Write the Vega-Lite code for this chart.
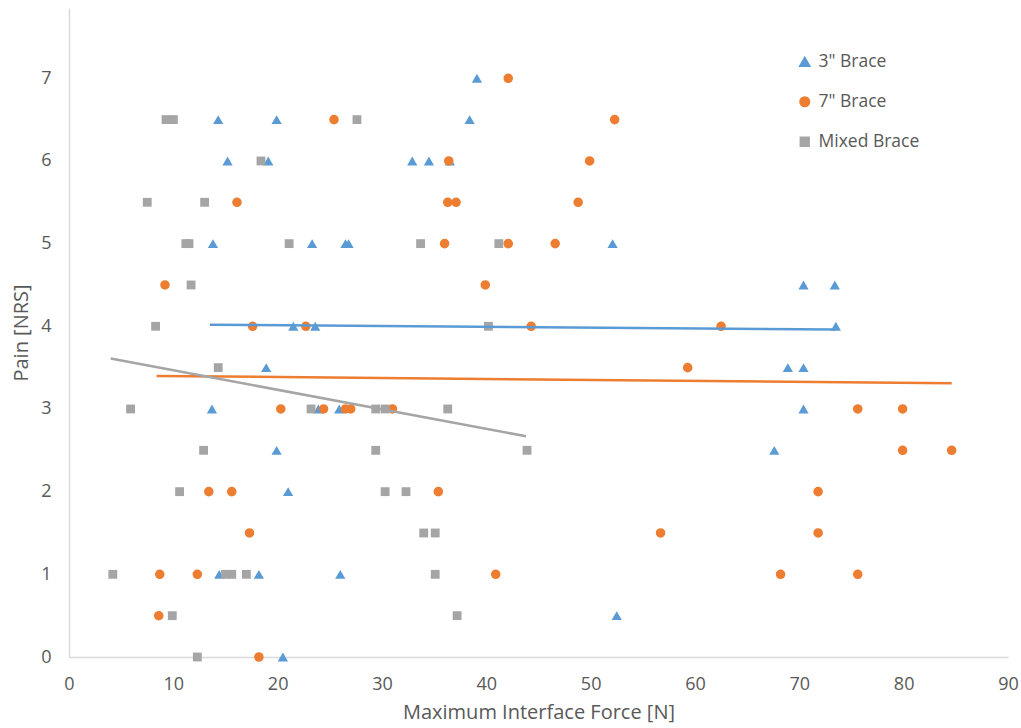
{
  "$schema": "https://vega.github.io/schema/vega-lite/v6.json",
  "width": 939,
  "height": 649,
  "autosize": {"type": "none"},
  "padding": {"left": 69, "top": 8, "right": 13, "bottom": 71},
  "background": "white",
  "config": {
    "view": {"stroke": null},
    "font": "Open Sans",
    "axis": {
      "grid": false,
      "ticks": false,
      "labelFlush": false,
      "domainColor": "#D9D9D9",
      "domainWidth": 1.5,
      "labelColor": "#595959",
      "labelFont": "Open Sans",
      "labelFontSize": 18,
      "labelPadding": 18,
      "titleColor": "#595959",
      "titleFont": "Open Sans",
      "titleFontSize": 20,
      "titleFontWeight": "normal"
    },
    "legend": {
      "labelColor": "#595959",
      "labelFont": "Open Sans",
      "labelFontSize": 17.5,
      "rowPadding": 21,
      "labelOffset": 5
    }
  },
  "datasets": {
    "points": [
      {"brace": "3\" Brace", "force": 14.3, "pain": 6.5},
      {"brace": "3\" Brace", "force": 19.9, "pain": 6.5},
      {"brace": "3\" Brace", "force": 38.4, "pain": 6.5},
      {"brace": "3\" Brace", "force": 39.1, "pain": 7},
      {"brace": "3\" Brace", "force": 15.2, "pain": 6},
      {"brace": "3\" Brace", "force": 19.1, "pain": 6},
      {"brace": "3\" Brace", "force": 32.9, "pain": 6},
      {"brace": "3\" Brace", "force": 34.5, "pain": 6},
      {"brace": "3\" Brace", "force": 36.5, "pain": 6},
      {"brace": "3\" Brace", "force": 13.8, "pain": 5},
      {"brace": "3\" Brace", "force": 23.3, "pain": 5},
      {"brace": "3\" Brace", "force": 26.5, "pain": 5},
      {"brace": "3\" Brace", "force": 26.8, "pain": 5},
      {"brace": "3\" Brace", "force": 52.1, "pain": 5},
      {"brace": "3\" Brace", "force": 70.4, "pain": 4.5},
      {"brace": "3\" Brace", "force": 73.4, "pain": 4.5},
      {"brace": "3\" Brace", "force": 21.5, "pain": 4},
      {"brace": "3\" Brace", "force": 23.6, "pain": 4},
      {"brace": "3\" Brace", "force": 73.5, "pain": 4},
      {"brace": "3\" Brace", "force": 18.9, "pain": 3.5},
      {"brace": "3\" Brace", "force": 68.9, "pain": 3.5},
      {"brace": "3\" Brace", "force": 70.4, "pain": 3.5},
      {"brace": "3\" Brace", "force": 13.7, "pain": 3},
      {"brace": "3\" Brace", "force": 23.9, "pain": 3},
      {"brace": "3\" Brace", "force": 25.9, "pain": 3},
      {"brace": "3\" Brace", "force": 70.4, "pain": 3},
      {"brace": "3\" Brace", "force": 19.9, "pain": 2.5},
      {"brace": "3\" Brace", "force": 67.6, "pain": 2.5},
      {"brace": "3\" Brace", "force": 21.0, "pain": 2},
      {"brace": "3\" Brace", "force": 14.4, "pain": 1},
      {"brace": "3\" Brace", "force": 18.2, "pain": 1},
      {"brace": "3\" Brace", "force": 26.0, "pain": 1},
      {"brace": "3\" Brace", "force": 52.5, "pain": 0.5},
      {"brace": "3\" Brace", "force": 20.5, "pain": 0},
      {"brace": "7\" Brace", "force": 42.1, "pain": 7},
      {"brace": "7\" Brace", "force": 25.4, "pain": 6.5},
      {"brace": "7\" Brace", "force": 52.3, "pain": 6.5},
      {"brace": "7\" Brace", "force": 36.4, "pain": 6},
      {"brace": "7\" Brace", "force": 49.9, "pain": 6},
      {"brace": "7\" Brace", "force": 16.1, "pain": 5.5},
      {"brace": "7\" Brace", "force": 36.3, "pain": 5.5},
      {"brace": "7\" Brace", "force": 37.1, "pain": 5.5},
      {"brace": "7\" Brace", "force": 48.8, "pain": 5.5},
      {"brace": "7\" Brace", "force": 36.0, "pain": 5},
      {"brace": "7\" Brace", "force": 42.1, "pain": 5},
      {"brace": "7\" Brace", "force": 46.6, "pain": 5},
      {"brace": "7\" Brace", "force": 9.2, "pain": 4.5},
      {"brace": "7\" Brace", "force": 39.9, "pain": 4.5},
      {"brace": "7\" Brace", "force": 17.6, "pain": 4},
      {"brace": "7\" Brace", "force": 22.7, "pain": 4},
      {"brace": "7\" Brace", "force": 44.3, "pain": 4},
      {"brace": "7\" Brace", "force": 62.5, "pain": 4},
      {"brace": "7\" Brace", "force": 59.3, "pain": 3.5},
      {"brace": "7\" Brace", "force": 20.3, "pain": 3},
      {"brace": "7\" Brace", "force": 24.4, "pain": 3},
      {"brace": "7\" Brace", "force": 26.5, "pain": 3},
      {"brace": "7\" Brace", "force": 27.0, "pain": 3},
      {"brace": "7\" Brace", "force": 31.0, "pain": 3},
      {"brace": "7\" Brace", "force": 75.6, "pain": 3},
      {"brace": "7\" Brace", "force": 79.9, "pain": 3},
      {"brace": "7\" Brace", "force": 79.9, "pain": 2.5},
      {"brace": "7\" Brace", "force": 84.6, "pain": 2.5},
      {"brace": "7\" Brace", "force": 13.4, "pain": 2},
      {"brace": "7\" Brace", "force": 15.6, "pain": 2},
      {"brace": "7\" Brace", "force": 35.4, "pain": 2},
      {"brace": "7\" Brace", "force": 71.8, "pain": 2},
      {"brace": "7\" Brace", "force": 17.3, "pain": 1.5},
      {"brace": "7\" Brace", "force": 56.7, "pain": 1.5},
      {"brace": "7\" Brace", "force": 71.8, "pain": 1.5},
      {"brace": "7\" Brace", "force": 8.7, "pain": 1},
      {"brace": "7\" Brace", "force": 12.3, "pain": 1},
      {"brace": "7\" Brace", "force": 40.9, "pain": 1},
      {"brace": "7\" Brace", "force": 68.2, "pain": 1},
      {"brace": "7\" Brace", "force": 75.6, "pain": 1},
      {"brace": "7\" Brace", "force": 8.6, "pain": 0.5},
      {"brace": "7\" Brace", "force": 18.2, "pain": 0},
      {"brace": "Mixed Brace", "force": 9.3, "pain": 6.5},
      {"brace": "Mixed Brace", "force": 10.0, "pain": 6.5},
      {"brace": "Mixed Brace", "force": 27.6, "pain": 6.5},
      {"brace": "Mixed Brace", "force": 18.4, "pain": 6},
      {"brace": "Mixed Brace", "force": 7.5, "pain": 5.5},
      {"brace": "Mixed Brace", "force": 13.0, "pain": 5.5},
      {"brace": "Mixed Brace", "force": 11.2, "pain": 5},
      {"brace": "Mixed Brace", "force": 11.5, "pain": 5},
      {"brace": "Mixed Brace", "force": 21.1, "pain": 5},
      {"brace": "Mixed Brace", "force": 33.7, "pain": 5},
      {"brace": "Mixed Brace", "force": 41.2, "pain": 5},
      {"brace": "Mixed Brace", "force": 11.7, "pain": 4.5},
      {"brace": "Mixed Brace", "force": 8.3, "pain": 4},
      {"brace": "Mixed Brace", "force": 40.2, "pain": 4},
      {"brace": "Mixed Brace", "force": 14.3, "pain": 3.5},
      {"brace": "Mixed Brace", "force": 5.9, "pain": 3},
      {"brace": "Mixed Brace", "force": 23.2, "pain": 3},
      {"brace": "Mixed Brace", "force": 29.4, "pain": 3},
      {"brace": "Mixed Brace", "force": 30.3, "pain": 3},
      {"brace": "Mixed Brace", "force": 36.3, "pain": 3},
      {"brace": "Mixed Brace", "force": 12.9, "pain": 2.5},
      {"brace": "Mixed Brace", "force": 29.4, "pain": 2.5},
      {"brace": "Mixed Brace", "force": 43.9, "pain": 2.5},
      {"brace": "Mixed Brace", "force": 10.6, "pain": 2},
      {"brace": "Mixed Brace", "force": 30.3, "pain": 2},
      {"brace": "Mixed Brace", "force": 32.3, "pain": 2},
      {"brace": "Mixed Brace", "force": 34.0, "pain": 1.5},
      {"brace": "Mixed Brace", "force": 35.1, "pain": 1.5},
      {"brace": "Mixed Brace", "force": 4.2, "pain": 1},
      {"brace": "Mixed Brace", "force": 15.0, "pain": 1},
      {"brace": "Mixed Brace", "force": 15.6, "pain": 1},
      {"brace": "Mixed Brace", "force": 17.0, "pain": 1},
      {"brace": "Mixed Brace", "force": 35.1, "pain": 1},
      {"brace": "Mixed Brace", "force": 9.9, "pain": 0.5},
      {"brace": "Mixed Brace", "force": 37.2, "pain": 0.5},
      {"brace": "Mixed Brace", "force": 12.3, "pain": 0}
    ],
    "trends": [
      {"brace": "3\" Brace", "force": 13.5, "pain": 4.02},
      {"brace": "3\" Brace", "force": 73.5, "pain": 3.96},
      {"brace": "7\" Brace", "force": 8.4, "pain": 3.40},
      {"brace": "7\" Brace", "force": 84.6, "pain": 3.31},
      {"brace": "Mixed Brace", "force": 4.0, "pain": 3.61},
      {"brace": "Mixed Brace", "force": 43.8, "pain": 2.67}
    ]
  },
  "layer": [
    {
      "data": {"name": "points"},
      "mark": {"type": "point", "filled": true, "opacity": 1},
      "encoding": {
        "x": {
          "field": "force",
          "type": "quantitative",
          "title": "Maximum Interface Force [N]",
          "scale": {"domain": [0, 90], "nice": false},
          "axis": {"values": [0, 10, 20, 30, 40, 50, 60, 70, 80, 90], "format": "d", "titlePadding": 9}
        },
        "y": {
          "field": "pain",
          "type": "quantitative",
          "title": "Pain [NRS]",
          "scale": {"domain": [0, 7.85], "nice": false},
          "axis": {"values": [0, 1, 2, 3, 4, 5, 6, 7], "format": "d", "titlePadding": 9}
        },
        "color": {
          "field": "brace",
          "type": "nominal",
          "scale": {
            "domain": ["3\" Brace", "7\" Brace", "Mixed Brace"],
            "range": ["#5B9BD5", "#ED7D31", "#A5A5A5"]
          },
          "legend": {"title": null, "orient": "none", "legendX": 727, "legendY": 45}
        },
        "shape": {
          "field": "brace",
          "type": "nominal",
          "scale": {
            "domain": ["3\" Brace", "7\" Brace", "Mixed Brace"],
            "range": ["triangle-up", "circle", "square"]
          }
        },
        "size": {
          "field": "brace",
          "type": "nominal",
          "scale": {
            "domain": ["3\" Brace", "7\" Brace", "Mixed Brace"],
            "range": [105, 78, 66]
          }
        }
      }
    },
    {
      "data": {"name": "trends"},
      "mark": {"type": "line", "strokeWidth": 2.5},
      "encoding": {
        "x": {"field": "force", "type": "quantitative"},
        "y": {"field": "pain", "type": "quantitative"},
        "detail": {"field": "brace"},
        "stroke": {
          "field": "brace",
          "type": "nominal",
          "scale": {
            "domain": ["3\" Brace", "7\" Brace", "Mixed Brace"],
            "range": ["#5B9BD5", "#ED7D31", "#A5A5A5"]
          },
          "legend": null
        }
      }
    }
  ]
}
